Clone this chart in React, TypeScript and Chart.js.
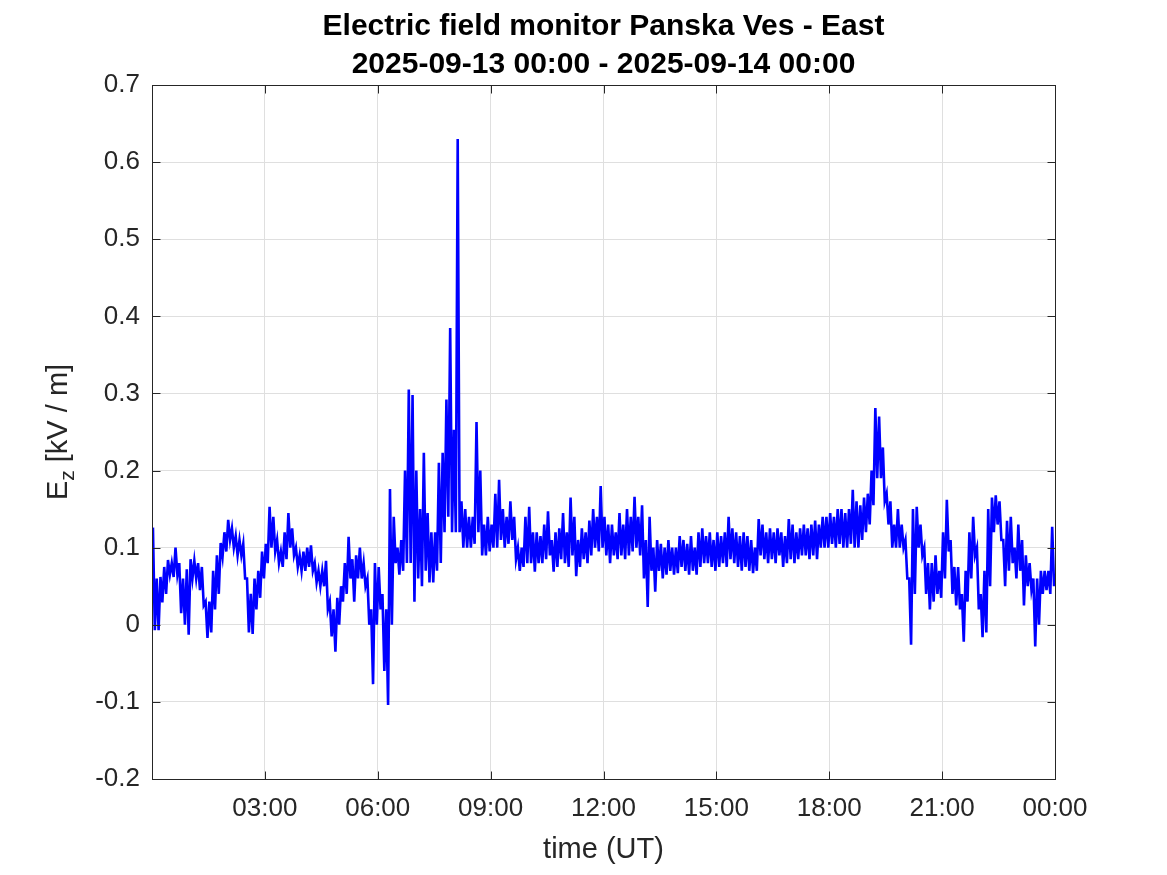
import React, { useEffect, useRef } from "react";
import { Chart, registerables } from "chart.js";

Chart.register(...registerables);

const TITLE_LINES = [
  "Electric field monitor Panska Ves - East",
  "2025-09-13 00:00 - 2025-09-14 00:00",
];
const X_LABEL = "time (UT)";
const Y_LABEL_MAIN = "E";
const Y_LABEL_SUB = "z";
const Y_LABEL_REST = " [kV / m]";

const X_MIN_H = 0;
const X_MAX_H = 24;
const X_TICK_HOURS = [0, 3, 6, 9, 12, 15, 18, 21, 24];
const X_TICK_LABELS = ["", "03:00", "06:00", "09:00", "12:00", "15:00", "18:00", "21:00", "00:00"];
const Y_TICKS = [-0.2, -0.1, 0, 0.1, 0.2, 0.3, 0.4, 0.5, 0.6, 0.7];
const Y_TICK_LABELS = ["-0.2", "-0.1", "0", "0.1", "0.2", "0.3", "0.4", "0.5", "0.6", "0.7"];

// width of each envelope window, hours
const WINDOW_H = 0.1;

// Ez [kV/m] upper envelope per 0.1 h window, rows = hours 0..23
const EZ_MAX = [
  0.126, 0.06, 0.062, 0.075, 0.084, 0.08, 0.1, 0.08, 0.06, 0.072,
  0.085, 0.083, 0.08, 0.075, 0.03, 0.03, 0.07, 0.09, 0.106, 0.12,
  0.136, 0.125, 0.115, 0.11, 0.105, 0.06, 0.04, 0.06, 0.07, 0.095,
  0.105, 0.153, 0.14, 0.11, 0.095, 0.12, 0.145, 0.125, 0.1, 0.09,
  0.095, 0.1, 0.103, 0.08, 0.07, 0.07, 0.083, 0.03, 0.02, 0.035,
  0.05, 0.08, 0.114, 0.085, 0.09, 0.1, 0.08, 0.06, 0.02, 0.08,
  0.075, 0.04, 0.02, 0.176, 0.14, 0.1, 0.11, 0.2, 0.305, 0.298,
  0.2, 0.15, 0.223, 0.145, 0.12, 0.12, 0.21, 0.223, 0.292, 0.385,
  0.253, 0.63, 0.16, 0.15, 0.14, 0.14, 0.263, 0.2, 0.13, 0.14,
  0.13, 0.17, 0.188, 0.15, 0.14, 0.16, 0.14, 0.1, 0.1, 0.14,
  0.153, 0.12, 0.12, 0.115, 0.13, 0.147, 0.11, 0.12, 0.125, 0.145,
  0.12, 0.165, 0.14, 0.11, 0.125, 0.12, 0.135, 0.15, 0.14, 0.18,
  0.14, 0.13, 0.13, 0.12, 0.145, 0.13, 0.15, 0.14, 0.166, 0.14,
  0.155, 0.11, 0.14, 0.1, 0.11, 0.105, 0.1, 0.11, 0.1, 0.1,
  0.115, 0.11, 0.105, 0.115, 0.1, 0.12, 0.125, 0.115, 0.12, 0.11,
  0.12, 0.115, 0.12, 0.14, 0.125, 0.12, 0.115, 0.12, 0.115, 0.11,
  0.1, 0.137, 0.13, 0.12, 0.125, 0.12, 0.125, 0.12, 0.115, 0.137,
  0.13, 0.12, 0.125, 0.13, 0.125, 0.13, 0.135, 0.13, 0.14, 0.14,
  0.145, 0.14, 0.15, 0.15, 0.145, 0.15, 0.175, 0.16, 0.155, 0.165,
  0.17, 0.2, 0.281, 0.27, 0.23, 0.17, 0.16, 0.13, 0.15, 0.13,
  0.11, 0.06, 0.15, 0.153, 0.13, 0.1, 0.08, 0.08, 0.09, 0.07,
  0.12, 0.162, 0.11, 0.075, 0.075, 0.04, 0.07, 0.12, 0.14, 0.1,
  0.04, 0.07, 0.15, 0.165, 0.168, 0.16, 0.11, 0.135, 0.14, 0.1,
  0.13, 0.11, 0.09, 0.08, 0.06, 0.06, 0.07, 0.07, 0.07, 0.127,
];

// Ez [kV/m] lower envelope per 0.1 h window, rows = hours 0..23
const EZ_MIN = [
  -0.007, -0.007, 0.029, 0.04, 0.065, 0.062, 0.065, 0.015, 0.0, -0.013,
  0.06, 0.06, 0.045, 0.025, -0.017, -0.01, 0.02, 0.04, 0.088, 0.095,
  0.11, 0.1, 0.09, 0.09, 0.06, -0.01, -0.012, 0.02, 0.035, 0.06,
  0.08, 0.1, 0.095, 0.08, 0.075, 0.085, 0.1, 0.09, 0.075, 0.07,
  0.07, 0.075, 0.07, 0.055, 0.05, 0.05, 0.02, -0.015, -0.035, 0.0,
  0.03, 0.04, 0.06, 0.03, 0.06, 0.06, 0.05, 0.0, -0.077, 0.0,
  0.02, -0.06, -0.104, 0.0, 0.08, 0.065, 0.07, 0.08, 0.08, 0.03,
  0.06, 0.05, 0.07, 0.055, 0.055, 0.07, 0.08, 0.12, 0.14, 0.12,
  0.12, 0.12, 0.1, 0.1, 0.1, 0.105, 0.12, 0.09, 0.09, 0.095,
  0.1, 0.1, 0.11, 0.1, 0.105, 0.11, 0.085, 0.07, 0.075, 0.08,
  0.08, 0.069, 0.08, 0.08, 0.085, 0.09, 0.069, 0.075, 0.085, 0.08,
  0.075, 0.09, 0.063, 0.075, 0.085, 0.08, 0.09, 0.1, 0.095, 0.1,
  0.09, 0.08, 0.09, 0.085, 0.09, 0.085, 0.09, 0.095, 0.1, 0.09,
  0.06, 0.023, 0.07, 0.043, 0.07, 0.06, 0.065, 0.07, 0.065, 0.067,
  0.075, 0.07, 0.065, 0.07, 0.065, 0.075, 0.08, 0.08, 0.075, 0.07,
  0.075, 0.08, 0.075, 0.085, 0.08, 0.075, 0.07, 0.075, 0.07, 0.067,
  0.07, 0.09, 0.085, 0.08, 0.085, 0.08, 0.09, 0.075, 0.08, 0.085,
  0.08, 0.085, 0.09, 0.09, 0.085, 0.09, 0.085, 0.1, 0.1, 0.1,
  0.105, 0.1, 0.105, 0.1, 0.1, 0.105, 0.1, 0.1, 0.11, 0.12,
  0.13, 0.155, 0.19, 0.19, 0.16, 0.13, 0.1, 0.1, 0.1, 0.1,
  0.06, -0.026, 0.04, 0.1, 0.09, 0.04, 0.02, 0.03, 0.04, 0.035,
  0.06, 0.095, 0.04, 0.025, 0.02, -0.022, 0.03, 0.06, 0.09, 0.02,
  -0.016, -0.01, 0.05, 0.12, 0.13, 0.11, 0.05, 0.07, 0.08, 0.06,
  0.07, 0.025, 0.05, 0.045, -0.028, 0.0, 0.04, 0.045, 0.04, 0.05,
];

const FONT = "'Liberation Sans', Arial, Helvetica, sans-serif";
const AXIS_COLOR = "#262626";
const GRID_COLOR = "#dfdfdf";
const LINE_COLOR = "#0000ff";

const W = 1167;
const H = 875;
const PLOT_LEFT = 152;
const PLOT_RIGHT = 1055;
const PLOT_TOP = 85;
const PLOT_BOTTOM = 779;

const decorPlugin = {
  id: "decor",
  afterDraw(chart: any) {
    const ctx = chart.ctx;
    const a = chart.chartArea;
    const xs = chart.scales.x;
    const ys = chart.scales.y;
    ctx.save();
    ctx.strokeStyle = AXIS_COLOR;
    ctx.lineWidth = 1;
    const l = Math.round(a.left) + 0.5;
    const r = Math.round(a.right) + 0.5;
    const t = Math.round(a.top) + 0.5;
    const b = Math.round(a.bottom) + 0.5;
    ctx.strokeRect(l, t, r - l, b - t);
    const TL = 8;
    ctx.beginPath();
    X_TICK_HOURS.forEach((hv) => {
      const px = Math.round(xs.getPixelForValue(hv)) + 0.5;
      ctx.moveTo(px, b);
      ctx.lineTo(px, b - TL);
      ctx.moveTo(px, t);
      ctx.lineTo(px, t + TL);
    });
    Y_TICKS.forEach((v) => {
      const py = Math.round(ys.getPixelForValue(v)) + 0.5;
      ctx.moveTo(l, py);
      ctx.lineTo(l + TL, py);
      ctx.moveTo(r, py);
      ctx.lineTo(r - TL, py);
    });
    ctx.stroke();

    const cx = (a.left + a.right) / 2;
    ctx.fillStyle = "#000000";
    ctx.textAlign = "center";
    ctx.textBaseline = "alphabetic";
    ctx.font = `bold 30px ${FONT}`;
    ctx.fillText(TITLE_LINES[0], cx, 35);
    ctx.fillText(TITLE_LINES[1], cx, 73);

    ctx.fillStyle = AXIS_COLOR;
    ctx.font = `29px ${FONT}`;
    ctx.fillText(X_LABEL, cx, 858);

    const cy = (a.top + a.bottom) / 2;
    ctx.translate(67, cy);
    ctx.rotate(-Math.PI / 2);
    const mainFont = `29px ${FONT}`;
    const subFont = `21px ${FONT}`;
    ctx.font = mainFont;
    const wE = ctx.measureText(Y_LABEL_MAIN).width;
    const wR = ctx.measureText(Y_LABEL_REST).width;
    ctx.font = subFont;
    const wZ = ctx.measureText(Y_LABEL_SUB).width;
    const total = wE + wZ + wR;
    let x0 = -total / 2;
    ctx.textAlign = "left";
    ctx.textBaseline = "alphabetic";
    ctx.font = mainFont;
    ctx.fillText(Y_LABEL_MAIN, x0, 0);
    x0 += wE;
    ctx.font = subFont;
    ctx.fillText(Y_LABEL_SUB, x0, 7);
    x0 += wZ;
    ctx.font = mainFont;
    ctx.fillText(Y_LABEL_REST, x0, 0);
    ctx.restore();
  },
};

export default function App() {
  const canvasRef = useRef<HTMLCanvasElement | null>(null);

  useEffect(() => {
    document.body.style.margin = "0";
    const canvas = canvasRef.current;
    if (!canvas) return;
    const points: { x: number; y: number }[] = [];
    EZ_MAX.forEach((hi, i) => {
      const lo = EZ_MIN[i];
      points.push({ x: X_MIN_H + (i + 0.25) * WINDOW_H, y: hi });
      points.push({ x: X_MIN_H + (i + 0.75) * WINDOW_H, y: lo });
    });
    const chart = new Chart(canvas, {
      type: "line",
      data: {
        datasets: [
          {
            data: points,
            borderColor: LINE_COLOR,
            borderWidth: 2.6,
            pointRadius: 0,
            tension: 0,
            fill: false,
          },
        ],
      },
      options: {
        animation: false,
        responsive: false,
        maintainAspectRatio: false,
        devicePixelRatio: 1,
        layout: {
          padding: { top: PLOT_TOP, left: 0, right: W - PLOT_RIGHT, bottom: 0 },
        },
        plugins: {
          legend: { display: false },
          title: { display: false },
          tooltip: { enabled: false },
        },
        scales: {
          x: {
            type: "linear",
            min: X_MIN_H,
            max: X_MAX_H,
            afterFit: (s: any) => {
              s.height = H - PLOT_BOTTOM;
            },
            afterBuildTicks: (s: any) => {
              s.ticks = X_TICK_HOURS.map((v) => ({ value: v }));
            },
            ticks: {
              autoSkip: false,
              maxRotation: 0,
              padding: 14,
              color: AXIS_COLOR,
              font: { family: FONT, size: 26 },
              callback: (v: any) => {
                const idx = X_TICK_HOURS.indexOf(Number(v));
                return idx >= 0 ? X_TICK_LABELS[idx] : "";
              },
            },
            grid: { color: GRID_COLOR, drawTicks: false, lineWidth: 1 },
            border: { display: false },
          },
          y: {
            type: "linear",
            min: Y_TICKS[0],
            max: Y_TICKS[Y_TICKS.length - 1],
            afterFit: (s: any) => {
              s.width = PLOT_LEFT;
            },
            afterBuildTicks: (s: any) => {
              s.ticks = Y_TICKS.map((v) => ({ value: v }));
            },
            ticks: {
              autoSkip: false,
              padding: 12,
              color: AXIS_COLOR,
              font: { family: FONT, size: 26 },
              callback: (v: any) => {
                const idx = Y_TICKS.findIndex((tk) => Math.abs(tk - Number(v)) < 1e-9);
                return idx >= 0 ? Y_TICK_LABELS[idx] : "";
              },
            },
            grid: { color: GRID_COLOR, drawTicks: false, lineWidth: 1 },
            border: { display: false },
          },
        },
      },
      plugins: [decorPlugin],
    });
    return () => chart.destroy();
  }, []);

  return (
    <div style={{ position: "absolute", left: 0, top: 0, width: W, height: H, background: "#ffffff" }}>
      <canvas ref={canvasRef} width={W} height={H} style={{ width: W, height: H, display: "block" }} />
    </div>
  );
}
